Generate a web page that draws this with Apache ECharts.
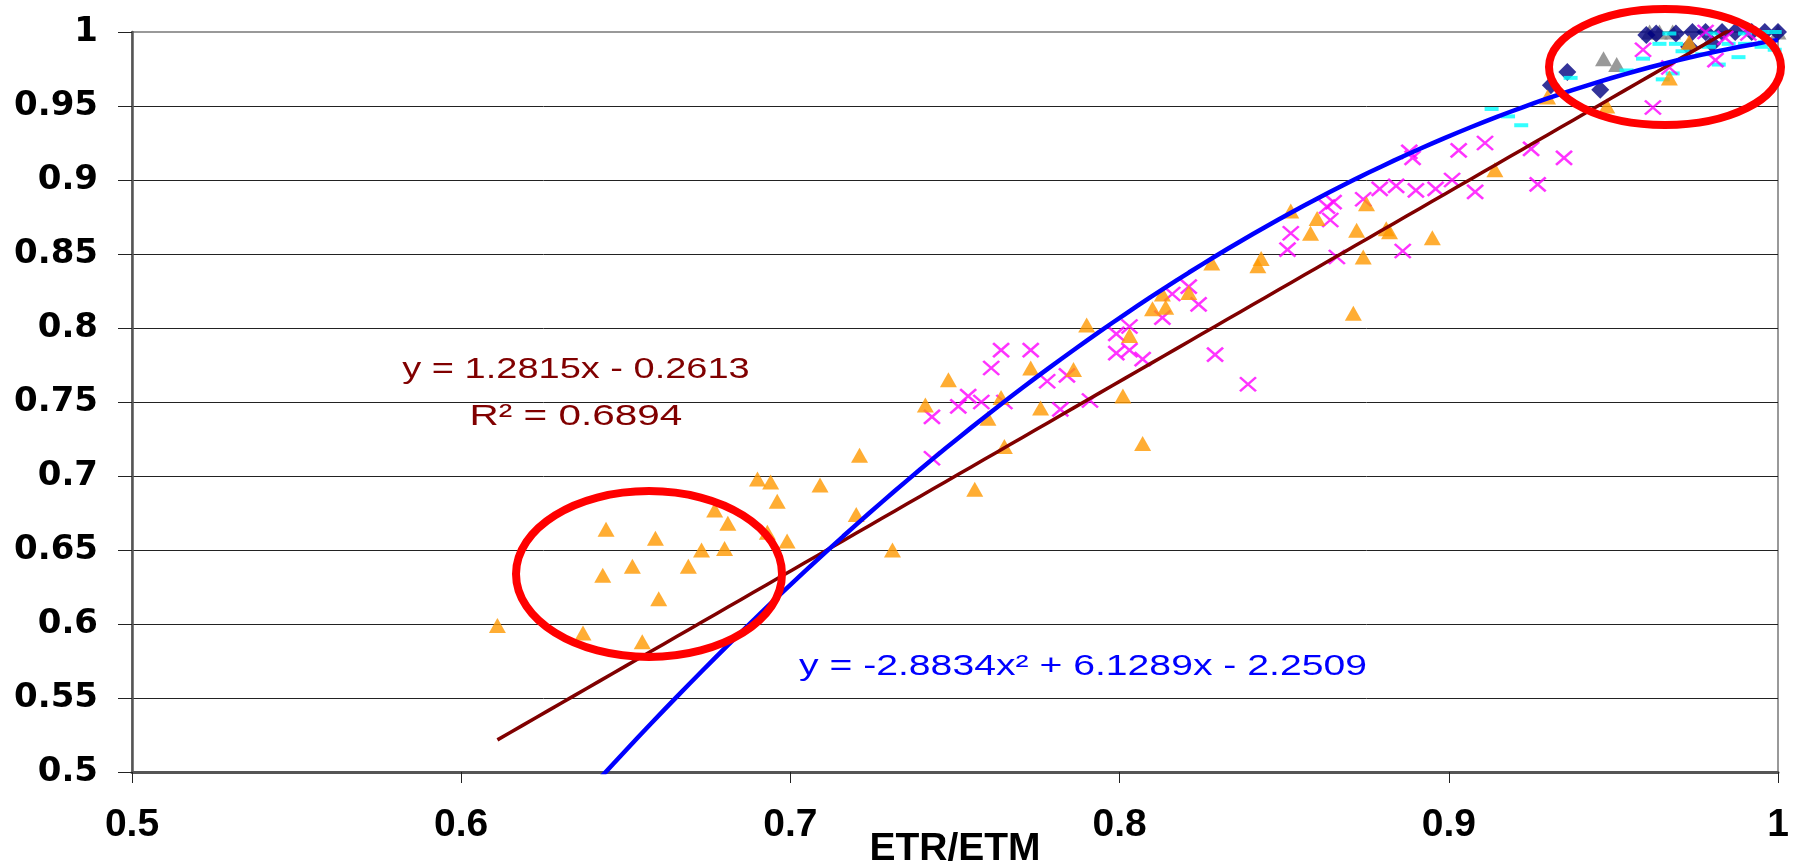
<!DOCTYPE html>
<html>
<head>
<meta charset="utf-8">
<script src="https://cdn.jsdelivr.net/npm/echarts@6/dist/echarts.min.js"></script>
<style>
html,body{margin:0;padding:0;background:#fff}
#chart{width:1795px;height:867px}
</style>
</head>
<body>
<div id="chart"></div>
<script>
// ETR/ETM (x) against relative value (y), one list per marker group
var orangePts = [
  [0.611,0.599],[0.644,0.664],[0.643,0.633],[0.652,0.639],[0.659,0.658],[0.637,0.594],
  [0.655,0.588],[0.660,0.617],[0.669,0.639],[0.673,0.650],[0.677,0.677],[0.681,0.668],
  [0.680,0.651],[0.690,0.698],[0.694,0.696],[0.696,0.683],[0.693,0.662],[0.699,0.656],
  [0.709,0.694],[0.721,0.714],[0.720,0.674],[0.731,0.650],[0.756,0.691],
  [0.741,0.748],[0.748,0.765],[0.764,0.753],[0.760,0.739],[0.765,0.720],[0.773,0.773],
  [0.776,0.746],[0.786,0.772],[0.790,0.802],[0.801,0.754],[0.803,0.795],[0.807,0.722],
  [0.810,0.813],[0.814,0.814],[0.813,0.823],[0.821,0.824],[0.828,0.844],[0.842,0.842],
  [0.843,0.847],[0.852,0.879],[0.860,0.874],[0.858,0.864],[0.875,0.884],[0.872,0.866],
  [0.881,0.867],[0.882,0.865],[0.895,0.861],[0.874,0.848],[0.914,0.907],[0.871,0.810],
  [0.930,0.956],[0.948,0.950],[0.967,0.969],[0.973,0.993]
];
var magentaPts = [
  [0.743,0.740],[0.743,0.712],[0.751,0.747],[0.754,0.754],[0.758,0.750],[0.761,0.773],
  [0.764,0.785],[0.773,0.785],[0.765,0.750],[0.778,0.764],[0.784,0.768],[0.782,0.745],
  [0.791,0.751],[0.799,0.783],[0.799,0.796],[0.803,0.801],[0.803,0.785],[0.807,0.779],
  [0.813,0.807],[0.816,0.823],[0.821,0.828],[0.824,0.816],[0.829,0.782],[0.839,0.762],
  [0.851,0.853],[0.852,0.864],[0.863,0.882],[0.865,0.885],[0.864,0.873],[0.866,0.848],
  [0.874,0.887],[0.879,0.894],[0.884,0.896],[0.886,0.852],[0.888,0.919],[0.889,0.915],
  [0.890,0.893],[0.896,0.894],[0.901,0.900],[0.903,0.920],[0.908,0.892],[0.911,0.925],
  [0.925,0.921],[0.927,0.897],[0.935,0.915],[0.959,0.988],[0.978,1.000],[0.984,0.996],
  [0.991,0.999],[0.967,0.976],[0.981,0.981],[0.962,0.949]
];
var navyPts = [
  [0.960,0.998],[0.963,0.999],[0.969,0.999],[0.974,1.000],[0.978,1.000],[0.983,1.000],
  [0.987,1.000],[0.992,1.000],[0.996,1.000],[1.000,1.000],[0.973,0.990],[0.980,0.992],
  [0.936,0.973],[0.931,0.964],[0.946,0.961]
];
var grayPts = [
  [0.947,0.982],[0.951,0.978],[0.961,1.000],[0.964,1.000],[0.968,1.000],[1.000,1.000]
];
var cyanPts = [
  [0.913,0.948],[0.918,0.943],[0.922,0.937],[0.937,0.969],[0.954,0.974],[0.959,0.982],
  [0.964,0.992],[0.967,0.999],[0.969,0.992],[0.971,0.987],[0.965,0.968],[0.968,0.972],
  [0.977,0.985],[0.982,0.978],[0.988,0.983],[0.979,0.990],[0.985,0.992],[0.990,0.992],
  [0.995,0.990],[0.996,0.993],[0.980,0.999],[0.990,0.999],[0.995,1.000],[0.999,1.000],
  [0.999,0.988]
];

// trendline equations as printed on the chart
var linCoef = [1.2815, -0.2613];
var polyCoef = [-2.8834, 6.1289, -2.2509];
var trendFrom = 0.611, trendTo = 1;

var xTicks = {min: 0.5, max: 1, interval: 0.1};
var yTicks = {min: 0.5, max: 1, interval: 0.05};

function trend(f) {
    var pts = [];
    for (var i = 0; i <= 100; i++) {
        var x = trendFrom + (trendTo - trendFrom) * i / 100;
        pts.push([x, f(x)]);
    }
    return pts;
}
var linPts = trend(function(x){ return linCoef[0] * x + linCoef[1]; });
var polyPts = trend(function(x){ return polyCoef[0] * x * x + polyCoef[1] * x + polyCoef[2]; });

var myChart = echarts.init(document.getElementById('chart'));

var eqFont = '"Liberation Sans", Arial, sans-serif';

var option = {
    backgroundColor: '#fff',
    animation: false,
    grid: {
        left: 132, right: 17, top: 32, bottom: 95,
        outerBoundsMode: 'none',
        containLabel: false,
        show: true, borderColor: '#999', borderWidth: 2
    },
    xAxis: {
        type: 'value',
        min: xTicks.min, max: xTicks.max, interval: xTicks.interval,
        name: 'ETR/ETM',
        nameLocation: 'middle',
        nameGap: 58,
        nameMoveOverlap: false,
        nameTextStyle: {fontFamily: eqFont, fontWeight: 'bold', fontSize: 39, color: '#000'},
        axisLine: {show: true, lineStyle: {color: '#555', width: 3}},
        axisTick: {show: true, length: 11, lineStyle: {color: '#222', width: 1}},
        axisLabel: {margin: 34, fontFamily: eqFont, fontWeight: 'bold', fontSize: 39, color: '#000'},
        splitLine: {show: false}
    },
    yAxis: {
        type: 'value',
        min: yTicks.min, max: yTicks.max, interval: yTicks.interval,
        axisLine: {show: true, lineStyle: {color: '#555', width: 2.5}},
        axisTick: {show: true, length: 14, lineStyle: {color: '#222', width: 1}},
        axisLabel: {margin: 34, fontFamily: '"DejaVu Sans", sans-serif', fontWeight: 'bold', fontSize: 34, color: '#000'},
        splitLine: {show: true, showMinLine: false, showMaxLine: false, lineStyle: {color: '#222', width: 1}}
    },
    series: [
        {
            type: 'scatter', data: grayPts, symbol: 'triangle', symbolSize: [17, 15],
            itemStyle: {color: '#808080'}, emphasis: {disabled: true}, z: 2
        },
        {
            type: 'scatter', data: navyPts, symbol: 'diamond', symbolSize: 18,
            itemStyle: {color: '#000080'}, emphasis: {disabled: true}, z: 3
        },
        {
            type: 'scatter', data: cyanPts, symbol: 'rect', symbolSize: [14, 4],
            itemStyle: {color: '#00FFFF'}, emphasis: {disabled: true}, z: 4
        },
        {
            type: 'scatter', data: magentaPts, symbol: 'path://M0,0L10,10M10,0L0,10', symbolSize: [16, 14],
            itemStyle: {color: 'rgba(0,0,0,0)', borderColor: '#FF00FF', borderWidth: 2.5},
            emphasis: {disabled: true}, z: 5
        },
        {
            type: 'scatter', data: orangePts, symbol: 'triangle', symbolSize: [17, 15],
            itemStyle: {color: '#FF9900'}, emphasis: {disabled: true}, z: 6
        },
        {
            type: 'line', data: linPts, showSymbol: false, clip: true, silent: true,
            lineStyle: {color: '#800000', width: 3.5}, z: 7
        },
        {
            type: 'line', data: polyPts, showSymbol: false, clip: true, silent: true,
            lineStyle: {color: '#0000FF', width: 4.5}, z: 8
        }
    ],
    graphic: [
        {
            type: 'ellipse', z: 100, silent: true,
            shape: {cx: 649, cy: 574, rx: 133, ry: 83},
            style: {fill: 'none', stroke: '#FF0000', lineWidth: 8}
        },
        {
            type: 'ellipse', z: 100, silent: true,
            shape: {cx: 1665, cy: 67, rx: 116, ry: 58},
            style: {fill: 'none', stroke: '#FF0000', lineWidth: 8}
        },
        {
            type: 'text', z: 100, x: 576, y: 370, scaleX: 1.31,
            style: {text: 'y = 1.2815x - 0.2613', font: '29px ' + eqFont, fill: '#800000', align: 'center', verticalAlign: 'middle'}
        },
        {
            type: 'text', z: 100, x: 576, y: 417, scaleX: 1.35,
            style: {text: 'R² = 0.6894', font: '30px ' + eqFont, fill: '#800000', align: 'center', verticalAlign: 'middle'}
        },
        {
            type: 'text', z: 100, x: 1083, y: 667, scaleX: 1.35,
            style: {text: 'y = -2.8834x² + 6.1289x - 2.2509', font: '29px ' + eqFont, fill: '#0000FF', align: 'center', verticalAlign: 'middle'}
        }
    ]
};
myChart.setOption(option);
</script>
</body>
</html>
